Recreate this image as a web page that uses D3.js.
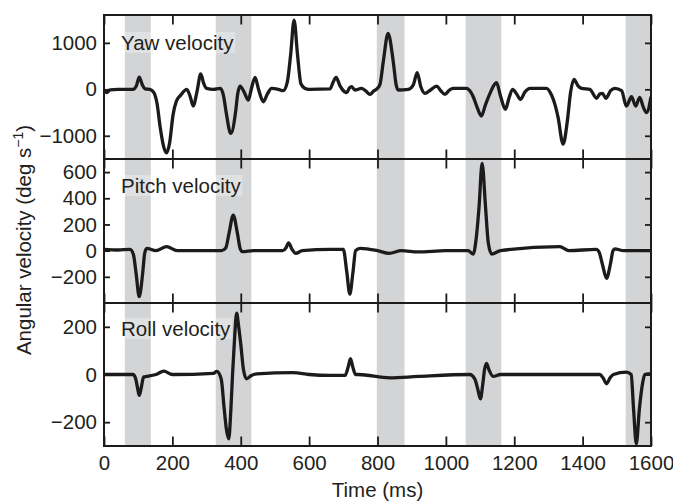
<!DOCTYPE html>
<html>
<head>
<meta charset="utf-8">
<script src="https://cdn.jsdelivr.net/npm/d3@7"></script>
<style>
  body { margin: 0; background: #fff; }
  svg { display: block; }
  text { font-family: "Liberation Sans", Arial, Helvetica, sans-serif; fill: #231f20; }
</style>
</head>
<body>
<svg id="chart" width="673" height="501"></svg>
<script>
// Time axis ticks (ms)
const timeTicks = [0, 200, 400, 600, 800, 1000, 1200, 1400, 1600];

// Shaded time windows (ms)
const shadedWindows = [[61, 137], [327, 431], [798, 879], [1058, 1162], [1526, 1600]];

// Panel titles and y ticks
const panelTitles = ["Yaw velocity", "Pitch velocity", "Roll velocity"];
const yawTicks = [-1000, 0, 1000];
const pitchTicks = [-200, 0, 200, 400, 600];
const rollTicks = [-200, 0, 200];

// Angular velocity traces: [time (ms), deg/s]
const yawPoints = [
  [0, -20], [8, -70], [18, -10], [40, 0], [85, 0], [95, 80], [103, 260], [112, 100], [120, 10],
  [134, 0], [145, -60], [155, -300], [165, -850], [175, -1250], [183, -1370], [192, -1150],
  [202, -550], [212, -250], [225, -120], [242, 0], [252, -150], [261, -360], [272, -50],
  [283, 330], [292, 120], [300, 20], [320, 0], [340, 20], [350, -150], [357, -480], [371, -950],
  [385, -480], [391, -100], [398, 70], [410, -60], [422, -230], [432, 40], [442, 258], [452, 0],
  [466, -267], [478, -100], [490, 20], [510, 0], [524, -30], [536, 150], [546, 750], [556, 1490],
  [566, 750], [576, 120], [588, 20], [600, 0], [661, 10], [670, 150], [679, 258], [690, 80],
  [703, -50], [710, -73], [718, 30], [724, 56], [734, -15], [753, 20], [765, -30], [778, -108],
  [790, -30], [797, 0], [807, 100], [817, 600], [831, 1205], [846, 600], [855, 80], [861, -15],
  [890, 0], [905, 100], [916, 358], [927, 50], [939, -86], [954, -20], [973, 71], [985, -30],
  [997, -108], [1010, -20], [1021, 20], [1060, 20], [1072, -50], [1080, -160], [1092, -400],
  [1104, -575], [1115, -350], [1129, -86], [1148, 142], [1160, -150], [1174, -430], [1185, -180],
  [1195, 0], [1207, -100], [1218, -215], [1232, -50], [1246, 20], [1294, 20], [1309, -123],
  [1320, -350], [1328, -600], [1343, -1178], [1355, -700], [1365, -50], [1375, 215], [1386, 80],
  [1397, 20], [1421, 0], [1441, -194], [1450, -100], [1458, -86], [1468, -194], [1482, -30],
  [1494, 20], [1514, -30], [1528, -360], [1543, -160], [1555, -360], [1567, -172], [1577, -374],
  [1587, -503], [1600, -160]
];

const pitchPoints = [
  [0, 10], [40, 5], [76, 10], [86, -30], [94, -176], [103, -352], [113, -176], [119, -20],
  [125, 18], [152, 0], [183, 30], [214, 0], [281, 0], [344, 0], [356, 20], [366, 136],
  [378, 272], [390, 136], [399, 10], [405, -8], [437, 0], [523, 0], [532, 20], [540, 60],
  [550, 10], [561, -21], [580, 0], [661, 10], [700, 10], [710, -160], [719, -332], [728, -170],
  [736, 0], [749, 18], [800, 0], [834, -21], [870, 0], [919, -10], [1000, 0], [1065, 0],
  [1080, -26], [1089, 100], [1097, 333], [1106, 667], [1116, 333], [1124, 60], [1134, -26],
  [1160, 0], [1333, 30], [1360, 0], [1440, 10], [1448, -10], [1458, -106], [1470, -212],
  [1481, -106], [1489, 0], [1494, 14], [1520, 0], [1600, 0]
];

const rollPoints = [
  [0, 0], [85, 0], [92, -15], [98, -55], [103, -88], [109, -55], [116, -10], [125, -8],
  [152, 0], [175, 14], [200, 0], [320, 5], [330, 13], [343, -20], [351, -135], [358, -230],
  [365, -270], [371, -150], [376, 0], [381, 128], [388, 257], [394, 200], [400, 128],
  [408, 20], [417, -18], [430, -5], [447, 3], [553, 8], [600, 0], [661, -4], [705, -4],
  [714, 30], [721, 66], [728, 30], [736, 0], [744, 0], [836, -14], [919, -8], [1070, 0],
  [1085, -20], [1093, -60], [1101, -102], [1108, -40], [1113, 20], [1119, 47], [1126, 20],
  [1138, -8], [1160, 0], [1450, 0], [1460, -15], [1470, -39], [1480, -15], [1490, 0],
  [1528, 10], [1542, 0], [1549, -145], [1557, -291], [1566, -145], [1575, -40], [1582, 0],
  [1592, 3], [1600, 3]
];

const svg = d3.select("#chart");

const x = d3.scaleLinear().domain([0, 1600]).range([104, 651]);

const panels = [
  { title: panelTitles[0], points: yawPoints, ticks: yawTicks, domain: [-1500, 1600], top: 15, bottom: 159, labelY: 50 },
  { title: panelTitles[1], points: pitchPoints, ticks: pitchTicks, domain: [-400, 700], top: 159, bottom: 303, labelY: 193 },
  { title: panelTitles[2], points: rollPoints, ticks: rollTicks, domain: [-300, 300], top: 303, bottom: 446, labelY: 336 }
];

const defs = svg.append("defs");
const signed = d => d < 0 ? "\u2212" + Math.abs(d) : String(d);

panels.forEach((p, i) => {
  const y = d3.scaleLinear().domain(p.domain).range([p.bottom, p.top]);
  const g = svg.append("g");

  const clipId = "clip" + i;
  defs.append("clipPath").attr("id", clipId)
    .append("rect")
    .attr("x", x(0)).attr("y", p.top)
    .attr("width", x(1600) - x(0)).attr("height", p.bottom - p.top);

  // shaded windows
  g.selectAll("rect.band")
    .data(shadedWindows)
    .join("rect")
    .attr("class", "band")
    .attr("x", d => x(d[0]))
    .attr("width", d => x(d[1]) - x(d[0]))
    .attr("y", p.top)
    .attr("height", p.bottom - p.top)
    .attr("fill", "#d3d4d6");

  // panel title with a faint backing box
  const titleBox = g.append("rect").attr("fill", "#fff").attr("fill-opacity", 0.3);

  // trace
  const line = d3.line()
    .x(d => x(d[0]))
    .y(d => y(d[1]))
    .curve(d3.curveMonotoneX);

  g.append("path")
    .datum(p.points)
    .attr("clip-path", `url(#${clipId})`)
    .attr("d", line)
    .attr("fill", "none")
    .attr("stroke", "#1c1a1b")
    .attr("stroke-width", 3.3)
    .attr("stroke-linejoin", "round");

  const title = g.append("text")
    .attr("x", 121)
    .attr("y", p.labelY)
    .attr("font-size", 20.5)
    .text(p.title);
  const bb = title.node().getBBox();
  titleBox.attr("x", bb.x - 1).attr("y", bb.y + 1).attr("width", bb.width + 2).attr("height", bb.height - 2);

  // y axes (left with labels, right without), inward ticks
  const left = d3.axisLeft(y).tickValues(p.ticks).tickSize(-6).tickPadding(7).tickFormat(signed);
  const gl = svg.append("g").attr("transform", `translate(${x(0)},0)`).call(left);
  const right = d3.axisRight(y).tickValues(p.ticks).tickSize(-6).tickFormat("");
  const gr = svg.append("g").attr("transform", `translate(${x(1600)},0)`).call(right);

  // x ticks on top and bottom edge of each panel, inward
  const top = d3.axisTop(x).tickValues(timeTicks).tickSize(-9.5).tickFormat("");
  const gt = svg.append("g").attr("transform", `translate(0,${p.top})`).call(top);
  const bottom = d3.axisBottom(x).tickValues(timeTicks).tickSize(-9.5);
  if (i < 2) bottom.tickFormat("");
  else bottom.tickPadding(9).tickFormat(d => String(d));
  const gb = svg.append("g").attr("transform", `translate(0,${p.bottom})`).call(bottom);

  [gl, gr, gt, gb].forEach(a => {
    a.select(".domain").remove();
    a.selectAll(".tick line").attr("stroke", "#1c1a1b").attr("stroke-width", 1.8);
    a.selectAll(".tick text").attr("font-size", 20.5).attr("font-family", null).attr("fill", "#231f20");
  });

  // panel frame
  svg.append("rect")
    .attr("x", x(0)).attr("y", p.top)
    .attr("width", x(1600) - x(0)).attr("height", p.bottom - p.top)
    .attr("fill", "none")
    .attr("stroke", "#1c1a1b")
    .attr("stroke-width", 2);
});

// axis titles
svg.append("text")
  .attr("x", (x(0) + x(1600)) / 2)
  .attr("y", 497)
  .attr("text-anchor", "middle")
  .attr("font-size", 20.5)
  .text("Time (ms)");

const yTitle = svg.append("text")
  .attr("transform", "translate(31,240) rotate(-90)")
  .attr("text-anchor", "middle")
  .attr("font-size", 20.5);
yTitle.append("tspan").text("Angular velocity (deg s");
yTitle.append("tspan").attr("font-size", 14).attr("dy", -8).text("\u22121");
yTitle.append("tspan").attr("dy", 8).text(")");
</script>
</body>
</html>
